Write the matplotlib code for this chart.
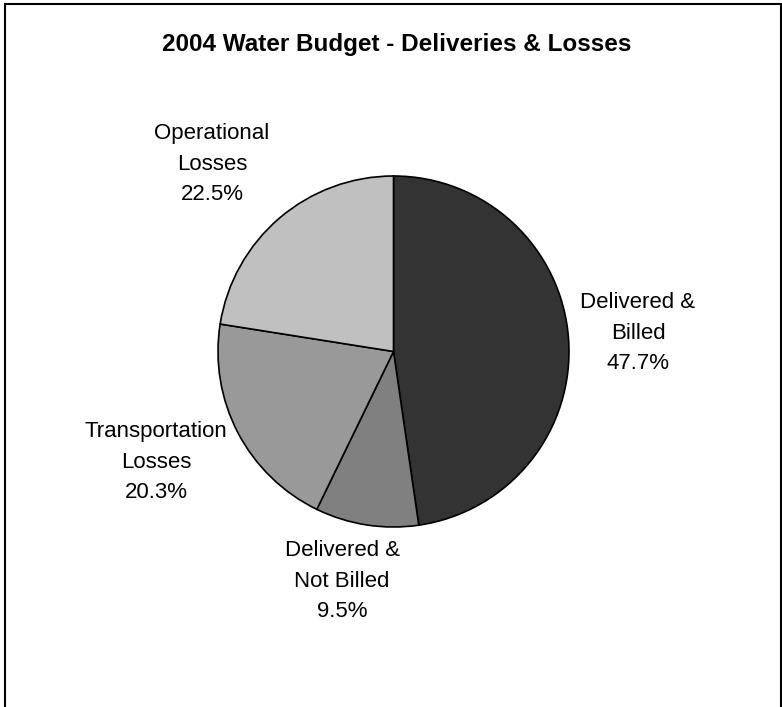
import matplotlib
matplotlib.use("Agg")
import matplotlib.pyplot as plt
from matplotlib.patches import Rectangle

plt.rcParams['font.family'] = ['Liberation Sans', 'DejaVu Sans']

# budget shares, clockwise from 12 o'clock
categories = ["Delivered &\nBilled", "Delivered &\nNot Billed",
              "Transportation\nLosses", "Operational\nLosses"]
shares = [47.7, 9.5, 20.3, 22.5]
colors = ["#333333", "#808080", "#999999", "#c0c0c0"]

# label centres in pie units (radius = 1)
label_pos = [(1.393, 0.105), (-0.293, -1.308), (-1.353, -0.630), (-1.034, 1.068)]

W, H = 782, 707
fig = plt.figure(figsize=(W / 100, H / 100), dpi=100)
fig.patch.set_facecolor("white")

cx, cy, r = 393.5, H - 351.5, 175.5
ax = fig.add_axes([(cx - r) / W, (cy - r) / H, 2 * r / W, 2 * r / H])
wedges, _ = ax.pie(shares, colors=colors, startangle=90, counterclock=False,
                   wedgeprops=dict(edgecolor="black", linewidth=1.2))
ax.set_xlim(-1, 1)
ax.set_ylim(-1, 1)
ax.set_aspect("equal")
ax.axis("off")

for name, val, (lx, ly) in zip(categories, shares, label_pos):
    ax.text(lx, ly, f"{name}\n{val:.1f}%", ha="center", va="center",
            fontsize=16, linespacing=1.6, clip_on=False)

fig.text(0.5 + 6 / W, 1 - 44 / H, "2004 Water Budget - Deliveries & Losses",
         ha="center", va="center", fontsize=17.5, fontweight="bold")

# chart frame
fig.add_artist(Rectangle((5 / W, -0.05), (781 - 5) / W, 1.05 - 3.5 / H,
                         transform=fig.transFigure, fill=False,
                         edgecolor="black", linewidth=1.5))

fig.savefig("out.png", dpi=100, facecolor="white")
